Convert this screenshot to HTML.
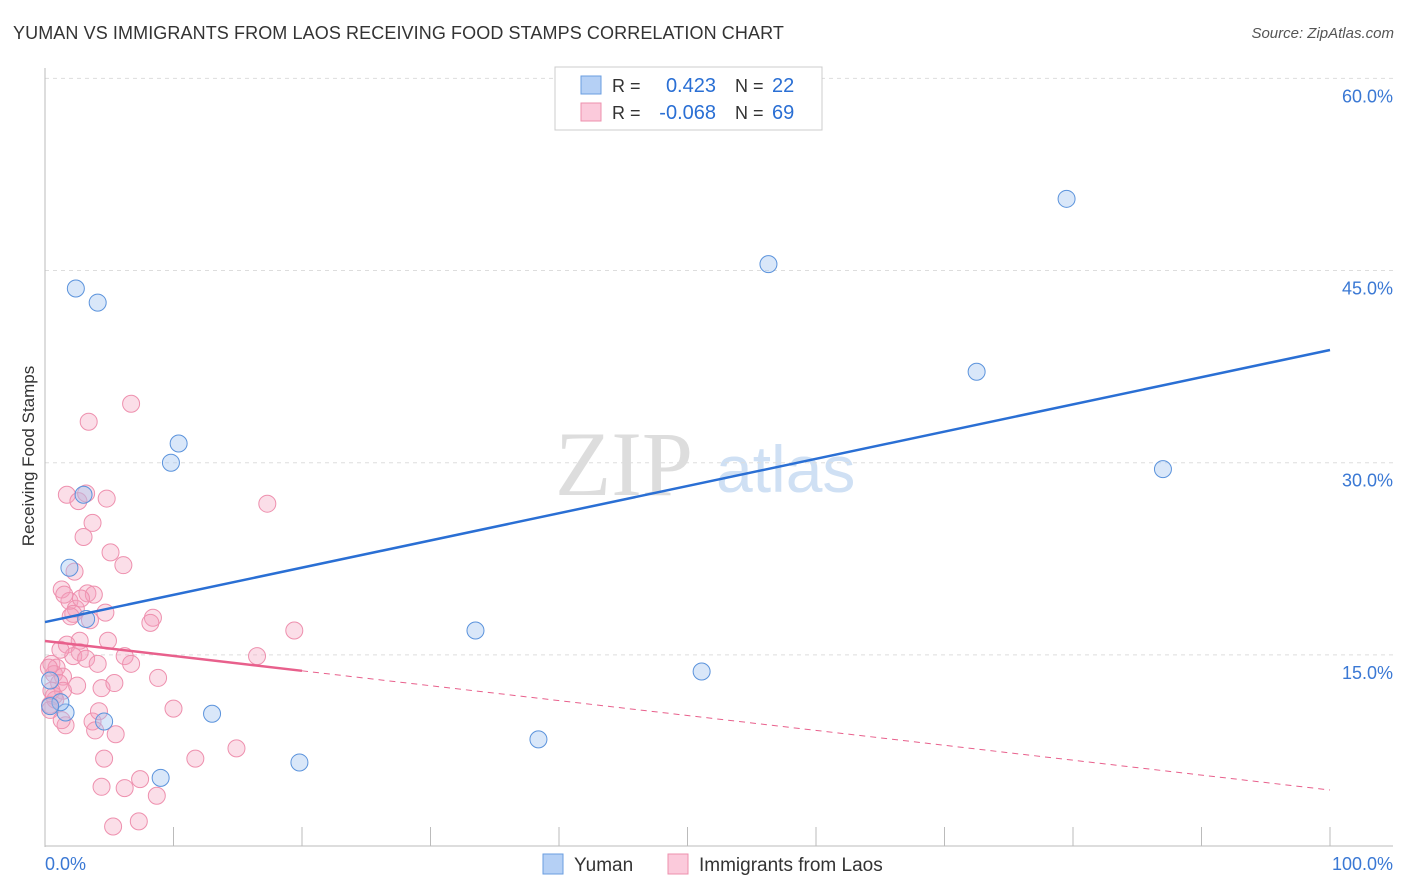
<!DOCTYPE html>
<html><head><meta charset="utf-8"><style>
body{margin:0;background:#fff;font-family:"Liberation Sans",sans-serif}
#c{position:relative;width:1406px;height:892px;overflow:hidden}
</style></head><body><div id="c">
<div style="position:absolute;left:13px;top:23px;font-size:18px;color:#333;letter-spacing:0.1px">YUMAN VS IMMIGRANTS FROM LAOS RECEIVING FOOD STAMPS CORRELATION CHART</div>
<div style="position:absolute;right:12px;top:25px;font-size:15px;color:#555;font-style:italic">Source: ZipAtlas.com</div>
<svg id="s" width="1406" height="892" style="position:absolute;left:0;top:0"></svg>
</div>
<script>
const blueX=[2.4,4.1,56.3,79.5,72.5,87.0,10.4,9.8,3.0,1.9,3.2,33.5,51.1,1.6,1.2,4.6,13.0,38.4,19.8,9.0,0.4,0.4];
const blueY=[43.6,42.5,45.5,50.6,37.1,29.5,31.5,30.0,27.5,21.8,17.8,16.9,13.7,10.5,11.3,9.8,10.4,8.4,6.6,5.4,13.0,11.0];
const pinkX=[6.7,3.4,17.3,1.7,2.6,4.8,3.2,3.7,3.0,5.1,6.1,2.3,1.3,1.9,1.5,3.3,3.8,2.4,2.2,2.8,3.5,4.7,8.4,8.2,2.0,2.7,1.7,4.9,19.4,2.7,2.2,3.2,6.2,6.7,4.1,16.5,0.5,0.9,0.7,1.4,1.1,1.4,0.7,0.4,2.5,4.4,5.4,8.8,10.0,3.7,1.6,4.2,3.9,5.5,14.9,11.7,4.6,4.4,6.2,7.4,8.7,7.3,5.3,0.4,0.8,0.3,1.2,0.5,1.3];
const pinkY=[34.6,33.2,26.8,27.5,27.0,27.2,27.6,25.3,24.2,23.0,22.0,21.5,20.1,19.2,19.7,19.8,19.7,18.6,18.2,19.4,17.7,18.3,17.9,17.5,18.0,16.1,15.8,16.1,16.9,15.2,14.9,14.7,14.9,14.3,14.3,14.9,14.3,14.0,13.5,13.3,12.8,12.2,11.8,11.1,12.6,12.4,12.8,13.2,10.8,9.8,9.5,10.6,9.1,8.8,7.7,6.9,6.9,4.7,4.6,5.3,4.0,2.0,1.6,10.7,11.5,14.0,15.4,12.2,9.9];
const blueLine=[17.56,38.8];
const pinkLine=[16.08,4.45];
const yTicks=[15,30,45,60];
const X=v=>45+v*12.85, Y=v=>847-v*12.81;
const s=document.getElementById('s'),NS='http://www.w3.org/2000/svg';
function mk(t,a,txt){const e=document.createElementNS(NS,t);for(const k in a)e.setAttribute(k,a[k]);if(txt!=null)e.textContent=txt;s.appendChild(e);return e;}
let e;
e=mk('text',{x:555,y:495,'font-size':92,'font-family':'Liberation Serif',fill:'#ddd'},'ZIP');


e=mk('text',{x:716,y:492,'font-size':66,'font-family':'Liberation Sans',fill:'#cfe0f4'},'atlas');


yTicks.forEach(v=>{
 e=mk('line',{x1:45,x2:1393,y1:Y(v),y2:Y(v),stroke:'#ddd','stroke-dasharray':'4,4'});
 
 
 e=mk('text',{x:1393,y:Y(v)+24,'text-anchor':'end','font-size':18,fill:'#3a78d4'},v.toFixed(1)+'%');
 
 
});
e=mk('line',{x1:45,x2:45,y1:68,y2:847,stroke:'#bbb'});


e=mk('line',{x1:45,x2:1393,y1:846,y2:846,stroke:'#bbb'});


for(let i=1;i<=10;i++){e=mk('line',{x1:X(i*10),x2:X(i*10),y1:827,y2:846,stroke:'#bbb'});
 
 }
e=mk('text',{x:45,y:870,'font-size':18,fill:'#3a78d4'},'0.0%');


e=mk('text',{x:1393,y:870,'text-anchor':'end','font-size':18,fill:'#3a78d4'},'100.0%');


e=mk('text',{x:34,y:456,'font-size':17,fill:'#333','text-anchor':'middle',transform:'rotate(-90 34 456)'},'Receiving Food Stamps');


pinkX.forEach((v,i)=>{e=mk('circle',{cx:X(v),cy:Y(pinkY[i]),r:8.5,fill:'rgba(244,160,190,0.35)',stroke:'#ee90ae','stroke-width':1});
 
 });
blueX.forEach((v,i)=>{e=mk('circle',{cx:X(v),cy:Y(blueY[i]),r:8.5,fill:'rgba(160,195,240,0.4)',stroke:'#5b93dc','stroke-width':1});
 
 });
e=mk('line',{x1:X(0),y1:Y(blueLine[0]),x2:X(100),y2:Y(blueLine[1]),stroke:'#2a6fd4','stroke-width':2.5});


const pAt=v=>pinkLine[0]+(pinkLine[1]-pinkLine[0])*v/100;
e=mk('line',{x1:X(0),y1:Y(pAt(0)),x2:X(20),y2:Y(pAt(20)),stroke:'#e8608c','stroke-width':2.5});


e=mk('line',{x1:X(20),y1:Y(pAt(20)),x2:X(100),y2:Y(pAt(100)),stroke:'#e8608c','stroke-width':1,'stroke-dasharray':'6,5'});


e=mk('rect',{x:555,y:67,width:267,height:63,fill:'#fff',stroke:'#ccc'});


[[0,'#b5d0f5','#6a9ee0','0.423','22'],[1,'#fbcadb','#ee90ae','-0.068','69']].forEach(r=>{
 const y=76+r[0]*27;
 e=mk('rect',{x:581,y:y,width:20,height:18,fill:r[1],stroke:r[2]});
 
 
 e=mk('text',{x:612,y:y+16,'font-size':18,fill:'#333'},'R = ');
 
 
 e=mk('text',{x:716,y:y+16,'font-size':20,fill:'#2a6fd4','text-anchor':'end'},r[3]);
 
 
 e=mk('text',{x:735,y:y+16,'font-size':18,fill:'#333'},'N = ');
 
 
 e=mk('text',{x:772,y:y+16,'font-size':20,fill:'#2a6fd4'},r[4]);
 
 
});
[[543,'#b5d0f5','#6a9ee0','Yuman'],[668,'#fbcadb','#ee90ae','Immigrants from Laos']].forEach(r=>{
 e=mk('rect',{x:r[0],y:854,width:20,height:20,fill:r[1],stroke:r[2]});
 
 
 e=mk('text',{x:r[0]+31,y:871,'font-size':19,fill:'#333'},r[3]);
 
 
});
</script></body></html>
